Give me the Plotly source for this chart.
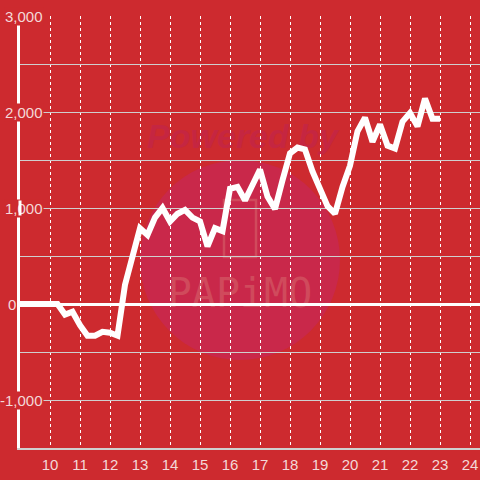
import plotly.graph_objects as go

# ---------------- data ----------------
x_vals = [9.0, 9.25, 9.5, 9.75, 10.0, 10.25, 10.5, 10.75, 11.0, 11.25, 11.5, 11.75,
          12.0, 12.25, 12.5, 12.75, 13.0, 13.25, 13.5, 13.75, 14.0, 14.25, 14.5, 14.75,
          15.0, 15.25, 15.5, 15.75, 16.0, 16.25, 16.5, 16.75, 17.0, 17.25, 17.5, 17.75,
          18.0, 18.25, 18.5, 18.75, 19.0, 19.25, 19.5, 19.75, 20.0, 20.25, 20.5, 20.75,
          21.0, 21.25, 21.5, 21.75, 22.0, 22.25, 22.5, 22.75, 23.0]
y_vals = [0, 0, 0, 0, 0, 0, -110, -80, -220, -330, -330, -290,
          -300, -330, 200, 520, 790, 720, 900, 1000, 860, 940, 980, 900,
          860, 600, 790, 760, 1200, 1220, 1080, 1240, 1400, 1120, 990, 1290,
          1570, 1630, 1610, 1380, 1210, 1020, 940, 1220, 1440, 1800, 1940, 1690,
          1870, 1650, 1620, 1900, 1990, 1850, 2140, 1930, 1930]

x_ticks = [10, 11, 12, 13, 14, 15, 16, 17, 18, 19, 20, 21, 22, 23, 24]
y_grid = [-1500, -1000, -500, 0, 500, 1000, 1500, 2000, 2500, 3000]
y_label_vals = [3000, 2000, 1000, 0, -1000]
y_label_text = ["3,000", "2,000", "1,000", "0", "-1,000"]

# ---------------- style ----------------
BG = "#cd2a2f"
LABEL = "#f4d8d8"
GRID = "#cfcfcf"
FONT = "Liberation Sans, Arial, sans-serif"

L, R, T, B = 20, 0, 16, 32
W = H = 480
PW, PH = W - L - R, H - T - B


def px(xp):
    return (xp - L) / PW


def py(yp):
    return (H - B - yp) / PH


fig = go.Figure()
fig.add_trace(go.Scatter(
    x=x_vals, y=y_vals, mode="lines",
    line=dict(color="white", width=6),
    hoverinfo="skip", showlegend=False,
))

WM = "#d04a5c"
shapes = [
    # watermark circle
    dict(type="circle", xref="paper", yref="paper",
         x0=px(140), x1=px(340), y0=py(360), y1=py(160),
         fillcolor="#c9284a", line=dict(width=0), layer="below"),
    # phone icon
    dict(type="path", xref="paper", yref="paper",
         path=("M {a},{b} L {c},{b} L {c},{d} L {a},{d} Z").format(
             a=px(224), c=px(256), b=py(200), d=py(257)),
         fillcolor="rgba(0,0,0,0)", line=dict(color=WM, width=2.5), layer="below"),
    # "Powered by"
    dict(type="rect", xref="paper", yref="paper",
         x0=px(130), x1=px(355), y0=py(152), y1=py(114),
         fillcolor="rgba(0,0,0,0)", line=dict(width=0), layer="below",
         label=dict(text="<b><i>Powered by</i></b>", textposition="middle center",
                    font=dict(family=FONT, size=34, color="#c52641"))),
    # "PAPiMO"
    dict(type="rect", xref="paper", yref="paper",
         x0=px(160), x1=px(320), y0=py(314), y1=py(266),
         fillcolor="rgba(0,0,0,0)", line=dict(width=0), layer="below",
         label=dict(text="PAPiMO", textposition="middle center",
                    font=dict(family="DejaVu Sans Mono, monospace", size=40, color=WM))),
]

annotations = []
for v, t in zip(y_label_vals, y_label_text):
    right = 16.5 if t == "0" else 44
    annotations.append(dict(
        x=px(right), xref="paper", y=v, yref="y", text=t, showarrow=False,
        xanchor="right", yanchor="middle", bgcolor=BG if t != "0" else "rgba(0,0,0,0)",
        borderpad=0, font=dict(family=FONT, size=15, color=LABEL),
    ))
# the axis line stays visible across the "1,000" label
for off in (-9, 9):
    annotations.append(dict(
        x=0, xref="paper", y=1000, yref="y", text="", showarrow=True,
        arrowhead=0, arrowwidth=3, arrowcolor="white", ax=0, ay=off,
        standoff=0, startstandoff=0,
    ))

fig.update_layout(
    width=W, height=H,
    margin=dict(l=L, r=R, t=T, b=B, pad=0),
    paper_bgcolor=BG, plot_bgcolor="rgba(0,0,0,0)",
    shapes=shapes, annotations=annotations,
    showlegend=False,
    xaxis=dict(
        range=[9, 9 + PW / 30], tickvals=x_ticks, ticktext=[str(v) for v in x_ticks],
        showgrid=True, gridcolor="white", griddash="dot", gridwidth=1,
        zeroline=False, showline=True, linecolor=GRID, linewidth=2,
        ticks="outside", ticklen=2, tickcolor="rgba(0,0,0,0)",
        tickfont=dict(family=FONT, size=15, color=LABEL),
        fixedrange=True,
    ),
    yaxis=dict(
        range=[-1500, 3000], tickvals=y_grid, showticklabels=False,
        showgrid=True, gridcolor=GRID, gridwidth=1,
        zeroline=True, zerolinecolor="white", zerolinewidth=3,
        showline=True, linecolor="white", linewidth=3,
        ticks="", fixedrange=True,
    ),
)

fig.write_html(
    "out.html",
    config={"displayModeBar": False},
    post_script="document.body.style.margin='0';document.body.style.padding='0';",
)
